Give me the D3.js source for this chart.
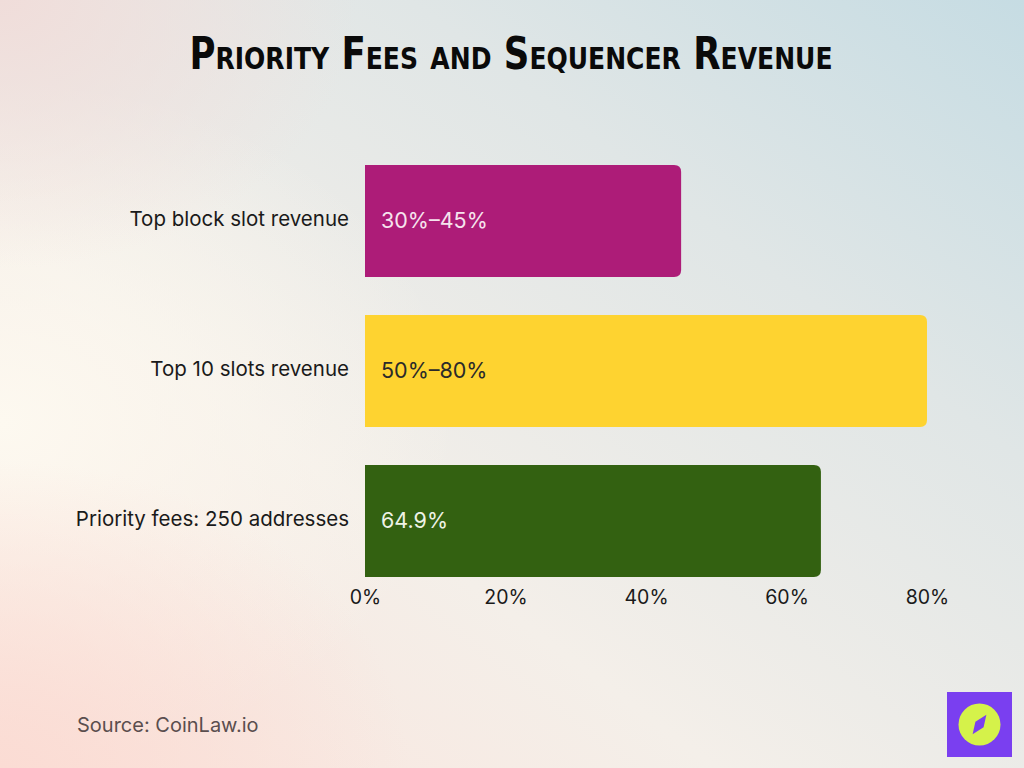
<!DOCTYPE html>
<html><head><meta charset="utf-8">
<script src="https://cdn.jsdelivr.net/npm/d3@7"></script>
<style>html,body{margin:0;padding:0;overflow:hidden;}svg{display:block;}</style>
</head><body>
<script>
const categories = ["Top block slot revenue", "Top 10 slots revenue", "Priority fees: 250 addresses"];
const values = [45, 80, 64.9];
const valueLabels = ["30%–45%", "50%–80%", "64.9%"];
const colors = ["#ad1c78", "#fed330", "#336111"];
const labelColors = ["#f6e4ee", "#2a2a2a", "#eef3e6"];
const tickValues = [0, 20, 40, 60, 80];
const title = "Priority Fees and Sequencer Revenue";
const source = "Source: CoinLaw.io";

const W = 1024, H = 768;
const svg = d3.select("body").append("svg").attr("width", W).attr("height", H);
const defs = svg.append("defs");

const lg = defs.append("linearGradient").attr("id","bg").attr("x1","0").attr("y1","1").attr("x2","1").attr("y2","0");
lg.append("stop").attr("offset","0").attr("stop-color","#fbe4dc");
lg.append("stop").attr("offset","0.35").attr("stop-color","#f4efe9");
lg.append("stop").attr("offset","0.7").attr("stop-color","#e0e6e6");
lg.append("stop").attr("offset","1").attr("stop-color","#c6dce3");
svg.append("rect").attr("width",W).attr("height",H).attr("fill","url(#bg)");

const rg = defs.append("radialGradient").attr("id","cream").attr("cx","0").attr("cy","0.55").attr("r","0.45");
rg.append("stop").attr("offset","0").attr("stop-color","#fdf9f0").attr("stop-opacity",1);
rg.append("stop").attr("offset","1").attr("stop-color","#fdf9f0").attr("stop-opacity",0);
svg.append("rect").attr("width",W).attr("height",H).attr("fill","url(#cream)");

const rg2 = defs.append("radialGradient").attr("id","pinkTop").attr("cx","0").attr("cy","0").attr("r","0.35");
rg2.append("stop").attr("offset","0").attr("stop-color","#f0ddda").attr("stop-opacity",1);
rg2.append("stop").attr("offset","1").attr("stop-color","#f0ddda").attr("stop-opacity",0);
svg.append("rect").attr("width",W).attr("height",H).attr("fill","url(#pinkTop)");

const rg3 = defs.append("radialGradient").attr("id","pinkBot").attr("cx","0").attr("cy","1").attr("r","0.4");
rg3.append("stop").attr("offset","0").attr("stop-color","#fbdcd4").attr("stop-opacity",1);
rg3.append("stop").attr("offset","1").attr("stop-color","#fbdcd4").attr("stop-opacity",0);
svg.append("rect").attr("width",W).attr("height",H).attr("fill","url(#pinkBot)");

// Title
svg.append("text").attr("x", 511).attr("y", 69).attr("text-anchor","middle")
  .attr("font-family","'Liberation Sans Narrow','DejaVu Sans Condensed',sans-serif")
  .attr("font-weight","bold").attr("font-size",44).style("font-variant","small-caps")
  .attr("textLength",643).attr("lengthAdjust","spacingAndGlyphs")
  .attr("fill","#0a0a0a").text(title);

const x = d3.scaleLinear().domain([0, 80]).range([365, 927]);
const y = d3.scaleBand().domain(categories).range([146, 596]).paddingInner(0.253).paddingOuter(0.127);

const font = "Inter, 'Noto Sans', sans-serif";

const r = 7;
function barPath(x0, x1, y0, h) {
  return `M${x0},${y0} H${x1 - r} Q${x1},${y0} ${x1},${y0 + r} V${y0 + h - r} Q${x1},${y0 + h} ${x1 - r},${y0 + h} H${x0} Z`;
}

const g = svg.append("g");
categories.forEach((c, i) => {
  const y0 = y(c), h = y.bandwidth();
  g.append("path").attr("d", barPath(x(0), x(values[i]), y0, h)).attr("fill", colors[i]);
  g.append("text").attr("x", x(0) + 16).attr("y", y0 + h / 2).attr("dy","0.33em")
    .attr("font-family", font).attr("font-size", 21.5).attr("fill", labelColors[i]).text(valueLabels[i]);
});

// y axis labels
const yAxis = d3.axisLeft(y).tickSize(0).tickPadding(16);
const yg = svg.append("g").attr("transform", `translate(${x(0)},0)`).call(yAxis);
yg.select(".domain").remove();
yg.selectAll("text").attr("font-family", font).attr("font-size", 20.5).attr("fill","#1a1a1a").attr("dy","0.25em");

// x axis
const xAxis = d3.axisBottom(x).tickValues(tickValues).tickSize(0).tickPadding(13).tickFormat(d => d + "%");
const barsBottom = y(categories[categories.length - 1]) + y.bandwidth();
const xg = svg.append("g").attr("transform", `translate(0,${barsBottom})`).call(xAxis);
xg.select(".domain").remove();
xg.selectAll("text").attr("font-family", font).attr("font-size", 19.5).attr("fill","#1a1a1a");

// source
svg.append("text").attr("x", 77).attr("y", 732).attr("font-family", font).attr("font-size", 20)
  .attr("fill","#5a4e4e").text(source);

// logo
const lgG = svg.append("g");
lgG.append("rect").attr("x",947).attr("y",692).attr("width",65).attr("height",65).attr("fill","#7a3ff0");
lgG.append("circle").attr("cx",979.5).attr("cy",724.5).attr("r",21).attr("fill","#d5f24a");
lgG.append("path").attr("d","M0,-12 L5,0 L0,12 L-5,0 Z").attr("fill","#7a3ff0")
  .attr("transform","translate(979.5,724.5) rotate(35)");
</script>
</body></html>
